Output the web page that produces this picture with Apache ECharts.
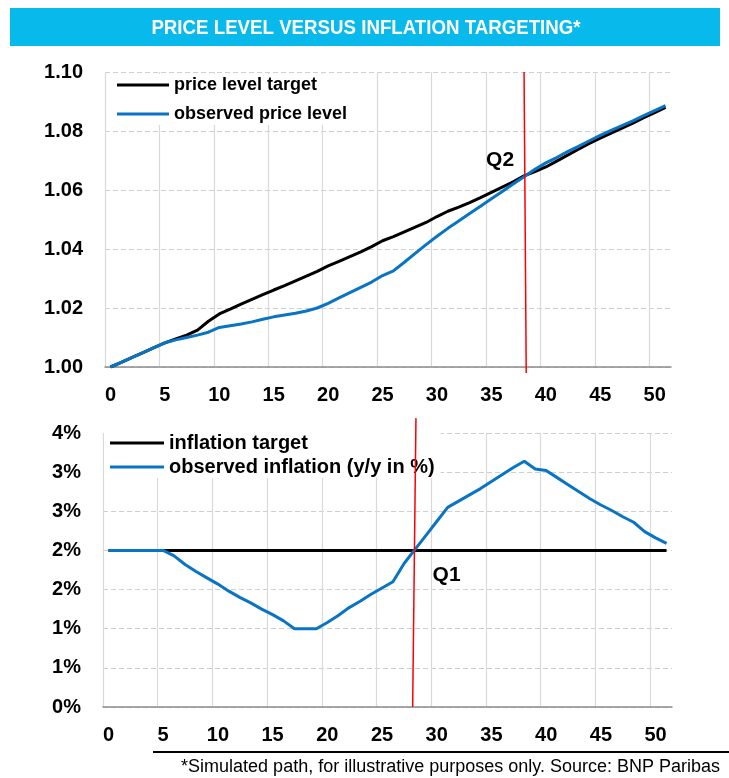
<!DOCTYPE html>
<html>
<head>
<meta charset="utf-8">
<script src="https://cdn.jsdelivr.net/npm/echarts@6/dist/echarts.min.js"></script>
<style>
  html, body { margin: 0; padding: 0; background: #fff; }
  #chart { width: 729px; height: 778px; }
</style>
</head>
<body>
<div id="chart"></div>
<script>
// 数据
const periods = ['0','1','2','3','4','5','6','7','8','9','10','11','12','13','14','15','16','17','18','19','20','21','22','23','24','25',
  '26','27','28','29','30','31','32','33','34','35','36','37','38','39','40','41','42','43','44','45','46','47','48','49','50','51']

// price level target
const priceTarget = [1.0000,1.0016,1.0033,1.0049,1.0066,1.0082,1.0095,1.0108,1.0125,1.0155,1.0180,1.0196,1.0213,1.0229,1.0245,1.0261,
  1.0276,1.0292,1.0308,1.0324,1.0343,1.0358,1.0374,1.0390,1.0408,1.0428,1.0442,1.0458,1.0474,1.0490,1.0510,1.0528,1.0542,1.0557,1.0574,
  1.0592,1.0610,1.0628,1.0648,1.0662,1.0678,1.0698,1.0718,1.0738,1.0758,1.0776,1.0793,1.0810,1.0827,1.0845,1.0862,1.0880]

// observed price level
const priceObserved = [1.0000,1.0016,1.0033,1.0049,1.0066,1.0082,1.0092,1.0100,1.0108,1.0118,1.0134,1.0140,1.0146,1.0153,1.0162,1.0170,
  1.0176,1.0182,1.0190,1.0200,1.0216,1.0234,1.0252,1.0270,1.0288,1.0310,1.0326,1.0355,1.0385,1.0415,1.0443,1.0470,1.0495,1.0520,1.0545,
  1.0570,1.0595,1.0620,1.0645,1.0670,1.0692,1.0710,1.0730,1.0748,1.0767,1.0785,1.0802,1.0818,1.0834,1.0852,1.0869,1.0886]

// inflation target (%)
const inflationTarget = [2,2,2,2,2,2,2,2,2,2,2,2,2,2,2,2,2,2,2,2,2,2,2,2,2,2,2,2,2,2,2,2,2,2,2,2,2,2,2,2,2,2,2,2,2,2,2,2,2,2,2,2]

// observed inflation (y/y in %)
const inflationObserved = [2.00,2.00,2.00,2.00,2.00,2.00,1.93,1.82,1.73,1.65,1.57,1.48,1.40,1.33,1.25,1.18,1.10,1.00,1.00,1.00,1.08,1.17,
  1.27,1.35,1.44,1.52,1.60,1.83,2.01,2.19,2.37,2.55,2.63,2.71,2.79,2.88,2.97,3.06,3.14,3.04,3.02,2.93,2.84,2.75,2.66,2.58,2.51,2.43,
  2.36,2.24,2.16,2.09]

// y轴刻度
const priceTicks = [1.00, 1.02, 1.04, 1.06, 1.08, 1.10]
const inflationTicks = [0, 0.5, 1, 1.5, 2, 2.5, 3, 3.5]

// Q1 / Q2 标注（红线位置，按期数）
const q2Line = [[38.0, 1.100], [38.2, 0.998]]
const q1Line = [[28.1, 3.69], [27.8, 0]]
const q2Label = [[35.8, 1.0702]]
const q1Label = [[30.9, 1.68]]

const FONT = '"Liberation Sans Narrow", "Arial Narrow", "Liberation Sans", Arial, sans-serif'
const BLUE = '#0a74c4'

const myChart = echarts.init(document.querySelector('#chart'))

function catAxis(gridIndex) {
  return {
    type: 'category',
    gridIndex,
    data: periods,
    boundaryGap: true,
    axisLine: { lineStyle: { color: '#8c8c8c', width: 1.5 } },
    axisTick: { interval: 4, length: 6, lineStyle: { color: '#8c8c8c', width: 1.5 } },
    axisLabel: { interval: 4, color: '#000', fontFamily: FONT, fontWeight: 'bold', fontSize: 20, margin: 18 },
    splitLine: { show: true, interval: 4, showMaxLine: false, lineStyle: { color: '#d9d9d9', width: 1.2 } }
  }
}

function hiddenAxis(gridIndex) {
  return { type: 'value', gridIndex, min: -0.5, max: 51.5, show: false }
}

const yLabel = { color: '#000', fontFamily: FONT, fontWeight: 'bold', fontSize: 20, margin: 22 }
const yGrid = { show: true, lineStyle: { color: '#cfcfcf', type: [5, 3], width: 1.2 } }
const qLabel = { show: true, position: 'inside', color: '#000', fontFamily: FONT, fontWeight: 'bold', fontSize: 21 }

option = {
  backgroundColor: '#fff',
  animation: false,
  graphic: [
    { type: 'rect', z: -1, shape: { x: 10, y: 8, width: 710, height: 38 }, style: { fill: '#08b9ec' } },
    {
      type: 'text', x: 366, y: 28, scaleX: 0.89,
      style: {
        text: 'PRICE LEVEL VERSUS INFLATION TARGETING*', fill: '#fff',
        font: 'bold 21px ' + FONT, textAlign: 'center', textVerticalAlign: 'middle'
      }
    },
    { type: 'line', shape: { x1: 153, y1: 752, x2: 729, y2: 752 }, style: { stroke: '#000', lineWidth: 2 } },
    {
      type: 'text', x: 720, y: 767,
      style: {
        text: '*Simulated path, for illustrative purposes only. Source: BNP Paribas', fill: '#000',
        font: '18px ' + FONT, textAlign: 'right', textVerticalAlign: 'middle'
      }
    }
  ],
  grid: [
    { left: 105, top: 72, width: 566, height: 295 },
    { left: 103, top: 433, width: 569, height: 274 }
  ],
  legend: [
    {
      data: ['price level target', 'observed price level'],
      orient: 'vertical', left: 111, top: 74, itemGap: 11,
      icon: 'rect', itemWidth: 52, itemHeight: 3,
      backgroundColor: '#fff', padding: [2, 6, 2, 6],
      textStyle: { color: '#000', fontFamily: FONT, fontWeight: 'bold', fontSize: 18 }
    },
    {
      data: ['inflation target', 'observed inflation (y/y in %)'],
      orient: 'vertical', left: 104, top: 432, itemGap: 4,
      icon: 'rect', itemWidth: 54, itemHeight: 3,
      backgroundColor: '#fff', padding: [1, 6, 1, 6],
      textStyle: { color: '#000', fontFamily: FONT, fontWeight: 'bold', fontSize: 20 }
    }
  ],
  xAxis: [catAxis(0), catAxis(1), hiddenAxis(0), hiddenAxis(1)],
  yAxis: [
    {
      type: 'value', gridIndex: 0,
      min: priceTicks[0], max: priceTicks[priceTicks.length - 1], interval: 0.02,
      axisLine: { show: false }, axisTick: { show: false },
      axisLabel: { ...yLabel, formatter: v => v.toFixed(2) },
      splitLine: yGrid
    },
    {
      type: 'value', gridIndex: 1,
      min: inflationTicks[0], max: inflationTicks[inflationTicks.length - 1], interval: 0.5,
      axisLine: { show: false }, axisTick: { show: false },
      axisLabel: { ...yLabel, formatter: v => Math.round(v) + '%' },
      splitLine: yGrid
    }
  ],
  series: [
    {
      name: 'price level target', type: 'line', xAxisIndex: 0, yAxisIndex: 0,
      data: priceTarget, symbol: 'none', z: 3,
      lineStyle: { color: '#000', width: 3 }, itemStyle: { color: '#000' }
    },
    {
      name: 'observed price level', type: 'line', xAxisIndex: 0, yAxisIndex: 0,
      data: priceObserved, symbol: 'none', z: 4,
      lineStyle: { color: BLUE, width: 3 }, itemStyle: { color: BLUE }
    },
    {
      name: 'inflation target', type: 'line', xAxisIndex: 1, yAxisIndex: 1,
      data: inflationTarget, symbol: 'none', z: 3,
      lineStyle: { color: '#000', width: 3 }, itemStyle: { color: '#000' }
    },
    {
      name: 'observed inflation (y/y in %)', type: 'line', xAxisIndex: 1, yAxisIndex: 1,
      data: inflationObserved, symbol: 'none', z: 4,
      lineStyle: { color: BLUE, width: 3 }, itemStyle: { color: BLUE }
    },
    // 红线 Q2
    {
      type: 'line', xAxisIndex: 2, yAxisIndex: 0, data: q2Line, symbol: 'none', clip: false, z: 5,
      lineStyle: { color: '#ff0000', width: 1.5 }
    },
    // 红线 Q1
    {
      type: 'line', xAxisIndex: 3, yAxisIndex: 1, data: q1Line, symbol: 'none', clip: false, z: 5,
      lineStyle: { color: '#ff0000', width: 1.5 }
    },
    {
      type: 'scatter', xAxisIndex: 2, yAxisIndex: 0, data: q2Label, symbolSize: 0, z: 6,
      itemStyle: { opacity: 1 }, label: { ...qLabel, formatter: 'Q2' }
    },
    {
      type: 'scatter', xAxisIndex: 3, yAxisIndex: 1, data: q1Label, symbolSize: 0, z: 6,
      itemStyle: { opacity: 1 }, label: { ...qLabel, formatter: 'Q1' }
    }
  ]
}

myChart.setOption(option)
</script>
</body>
</html>
